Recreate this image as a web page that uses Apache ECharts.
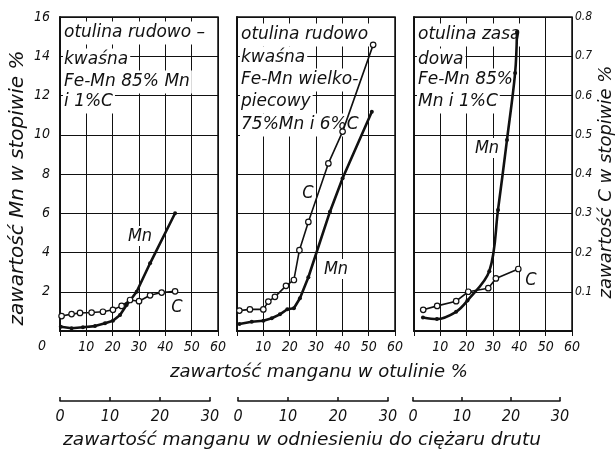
<!DOCTYPE html>
<html><head><meta charset="utf-8">
<script src="https://cdn.jsdelivr.net/npm/echarts@6/dist/echarts.min.js"></script>
<style>html,body{margin:0;padding:0;background:#fff}#c{width:616px;height:455px}</style>
</head><body><div id="c"></div>
<script>
// ---- data ----
const xTicks = [0, 10, 20, 30, 40, 50, 60];
const mnTicks = [0, 2, 4, 6, 8, 10, 12, 14, 16];
const cTicks = [0, 0.1, 0.2, 0.3, 0.4, 0.5, 0.6, 0.7, 0.8];
const wireTicks = [0, 10, 20, 30];

// panel 1: otulina rudowo-kwaśna, Fe-Mn 85% Mn i 1% C
const p1MnX = [0.3, 4.4, 8.7, 13.3, 17.1, 20.1, 22.8, 25.3, 29.1, 34.2, 43.7];
const p1MnY = [0.22, 0.14, 0.19, 0.25, 0.39, 0.52, 0.82, 1.32, 2.0, 3.45, 6.0];
const p1CX  = [0.6, 4.4, 7.6, 12, 16.3, 20.1, 23.4, 26.6, 30, 34.2, 38.6, 43.7];
const p1CY  = [0.038, 0.043, 0.046, 0.047, 0.049, 0.054, 0.064, 0.079, 0.076, 0.091, 0.098, 0.101];

// panel 2: otulina rudowo-kwaśna, Fe-Mn wielkopiecowy 75% Mn i 6% C
const p2MnX = [0.9, 5.6, 10, 13.2, 16.3, 19.1, 21.6, 23.9, 27.1, 35.3, 40.1, 51.2];
const p2MnY = [0.36, 0.47, 0.52, 0.65, 0.85, 1.11, 1.16, 1.67, 2.74, 6.08, 7.78, 11.17];
const p2CX  = [0.9, 4.9, 10, 11.9, 14.4, 18.6, 21.6, 23.7, 27.1, 34.7, 40.1, 51.7];
const p2CY  = [0.052, 0.055, 0.055, 0.075, 0.087, 0.115, 0.13, 0.206, 0.278, 0.427, 0.508, 0.729];

// panel 3: otulina zasadowa, Fe-Mn 85% Mn i 1% C
const p3MnX = [3.4, 8.7, 16, 20.3, 28.6, 31.9, 35.3, 38.4, 39.1];
const p3MnY = [0.69, 0.61, 0.98, 1.55, 3.05, 6.17, 9.73, 13.15, 15.24];
const p3CX  = [3.5, 8.8, 16, 20.6, 28.2, 31.1, 39.6];
const p3CY  = [0.054, 0.064, 0.076, 0.1, 0.109, 0.134, 0.158];

const panelTexts = [
  ['otulina rudowo –', 'kwaśna', 'Fe-Mn 85% Mn', 'i 1%C'],
  ['otulina rudowo', 'kwaśna', 'Fe-Mn wielko-', 'piecowy', '75%Mn i 6%C'],
  ['otulina zasa', 'dowa', 'Fe-Mn 85%', 'Mn i 1%C']
];
const xTitle = 'zawartość manganu w otulinie %';
const wireTitle = 'zawartość manganu w odniesieniu do ciężaru drutu';
const mnTitle = 'zawartość Mn w stopiwie %';
const cTitle = 'zawartość C w stopiwie %';

// ---- layout / style ----
const FONT = "'DejaVu Sans Condensed', 'Liberation Sans Narrow', 'DejaVu Sans', sans-serif";
const WFONT = "'DejaVu Sans', 'Liberation Sans', sans-serif";
const INK = '#111';
const panelLeft = [60, 237, 414];
const PW = 158, PT = 17, PH = 314;
const wireLeft = [60, 238, 413], wireW = [150, 150, 147];

const pair = (xs, ys) => xs.map((x, i) => [x, ys[i]]);

const grid = [], xAxis = [], yAxis = [], series = [];
panelLeft.forEach((l, i) => {
  grid.push({left: l, top: PT, width: PW, height: PH, show: true, borderColor: INK, borderWidth: 1.5, backgroundColor: 'transparent'});
  xAxis.push({type: 'value', gridIndex: i, min: xTicks[0], max: xTicks[xTicks.length - 1], interval: 10, position: 'bottom',
    axisLine: {show: true, lineStyle: {color: INK, width: 1.5}}, axisTick: {show: false},
    splitLine: {show: true, lineStyle: {color: INK, width: 1}},
    axisLabel: {margin: 9, color: INK, fontFamily: FONT, fontStyle: 'italic', fontSize: 14,
      formatter: v => v === 0 ? '' : String(v)}});
  xAxis.push({type: 'value', gridIndex: i, min: 0, max: 60, interval: 10, position: 'top',
    axisLine: {show: true, lineStyle: {color: INK, width: 1.5}},
    axisTick: {show: true, inside: true, length: 5, lineStyle: {color: INK, width: 1}},
    splitLine: {show: false}, axisLabel: {show: false}});
  yAxis.push({type: 'value', gridIndex: i, min: 0, max: 16, interval: 2, position: 'left',
    axisLine: {show: true, lineStyle: {color: INK, width: 1.5}}, axisTick: {show: false},
    splitLine: {show: true, lineStyle: {color: INK, width: 1}},
    axisLabel: {show: i === 0, margin: 10, color: INK, fontFamily: FONT, fontStyle: 'italic', fontSize: 14,
      formatter: v => v === 0 ? '' : String(v)}});
  yAxis.push({type: 'value', gridIndex: i, min: 0, max: 0.8, interval: 0.1, position: 'right',
    axisLine: {show: true, lineStyle: {color: INK, width: 1.5}},
    axisTick: {show: i === 2, length: 2, lineStyle: {color: INK}},
    splitLine: {show: false},
    axisLabel: {show: i === 2, margin: 3, color: INK, fontFamily: FONT, fontStyle: 'italic', fontSize: 12,
      formatter: v => v === 0 ? '' : v.toFixed(1)}});
});
wireLeft.forEach((l, i) => {
  const g = grid.length;
  grid.push({left: l, top: 400, width: wireW[i], height: 1, show: false});
  xAxis.push({type: 'value', gridIndex: g, min: wireTicks[0], max: wireTicks[wireTicks.length - 1], interval: 10, position: 'bottom',
    axisLine: {show: true, lineStyle: {color: INK, width: 1.5}},
    axisTick: {show: true, inside: true, length: 4, lineStyle: {color: INK, width: 1.5}},
    splitLine: {show: false},
    axisLabel: {margin: 8, color: INK, fontFamily: FONT, fontStyle: 'italic', fontSize: 16}});
  yAxis.push({type: 'value', gridIndex: g, show: false, min: 0, max: 1});
});

const mnStyle = (xi, yi, data, smooth) => ({type: 'line', xAxisIndex: xi, yAxisIndex: yi, data, smooth: smooth || false,
  symbol: 'circle', symbolSize: 4, itemStyle: {color: INK}, lineStyle: {color: INK, width: 2.6}, z: 3, animation: false});
const cStyle = (xi, yi, data) => ({type: 'line', xAxisIndex: xi, yAxisIndex: yi, data,
  symbol: 'circle', symbolSize: 5.5, itemStyle: {color: '#fff', borderColor: INK, borderWidth: 1.2},
  lineStyle: {color: INK, width: 1.6}, z: 4, animation: false});

series.push(mnStyle(0, 0, pair(p1MnX, p1MnY)));
series.push(cStyle(0, 1, pair(p1CX, p1CY)));
series.push(mnStyle(2, 2, pair(p2MnX, p2MnY)));
series.push(cStyle(2, 3, pair(p2CX, p2CY)));
series.push(mnStyle(4, 4, pair(p3MnX, p3MnY), 0.35));
series.push(cStyle(4, 5, pair(p3CX, p3CY)));

// ---- text ----
const graphic = [];
const txt = (x, y, text, size, extra, fam) => Object.assign({type: 'text', x, y, z: 1,
  style: Object.assign({text, fill: INK, font: 'italic ' + size + 'px ' + (fam || FONT), textVerticalAlign: 'middle'}, extra || {})});
const rowsY = [[33, 60, 82, 102], [35, 58, 80, 102, 125], [35, 60, 80, 102]];
panelTexts.forEach((rows, p) => rows.forEach((t, r) =>
  graphic.push(txt(panelLeft[p] + 3, rowsY[p][r], t, 17, {backgroundColor: '#fff', padding: [3, 2, 3, 1]}, WFONT))));
// curve labels
graphic.push(txt(140, 236, 'Mn', 18, {textAlign: 'center', backgroundColor: '#fff', padding: [1, 1]}));
graphic.push(txt(177, 307, 'C', 18, {textAlign: 'center', backgroundColor: '#fff', padding: [1, 1]}));
graphic.push(txt(308, 193, 'C', 18, {textAlign: 'center', backgroundColor: '#fff', padding: [1, 1]}));
graphic.push(txt(336, 269, 'Mn', 18, {textAlign: 'center', backgroundColor: '#fff', padding: [1, 1]}));
graphic.push(txt(487, 148, 'Mn', 18, {textAlign: 'center', backgroundColor: '#fff', padding: [1, 1]}));
graphic.push(txt(531, 280, 'C', 18, {textAlign: 'center'}));
// origin zero, axis titles
graphic.push(txt(42, 346, '0', 14, {textAlign: 'center'}));
graphic.push(txt(319, 372, xTitle, 18, {textAlign: 'center'}, WFONT));
graphic.push(txt(302, 440, wireTitle, 18.5, {textAlign: 'center'}, WFONT));
graphic.push(Object.assign(txt(18, 188, mnTitle, 20, {textAlign: 'center'}, WFONT), {rotation: Math.PI / 2}));
graphic.push(Object.assign(txt(606, 182, cTitle, 18, {textAlign: 'center'}, WFONT), {rotation: Math.PI / 2}));

const chart = echarts.init(document.getElementById('c'), null, {renderer: 'canvas'});
chart.setOption({animation: false, backgroundColor: '#fff', grid, xAxis, yAxis, series, graphic});
</script></body></html>
